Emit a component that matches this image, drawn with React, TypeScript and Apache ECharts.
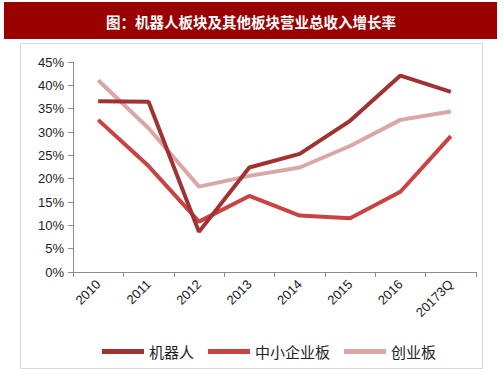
import React, { useEffect, useRef } from "react";
import * as echarts from "echarts";

const categories = ["2010", "2011", "2012", "2013", "2014", "2015", "2016", "20173Q"];
const robot = [36.6, 36.5, 8.6, 22.4, 25.3, 32.4, 42.1, 38.6];
const sme = [32.6, 22.7, 10.8, 16.3, 12.1, 11.5, 17.2, 29.1];
const chinext = [41.1, 30.8, 18.3, 20.6, 22.4, 27.0, 32.6, 34.4];
const seriesNames = ["机器人", "中小企业板", "创业板"];
const colors = ["#a13232", "#c94343", "#dba6a6"];
const titleText = "图：机器人板块及其他板块营业总收入增长率";

export default function App() {
  const ref = useRef<HTMLDivElement>(null);
  useEffect(() => {
    if (!ref.current) return;
    const chart = echarts.init(ref.current, null, { renderer: "svg" });
    const font = "'Liberation Sans', 'Noto Sans CJK SC', sans-serif";
    const mk = (name: string, data: number[], color: string, z: number) => ({
      name,
      type: "line",
      data,
      z,
      symbol: "none",
      lineStyle: { color, width: 4 },
      itemStyle: { color },
    });
    chart.setOption({
      animation: false,
      backgroundColor: "#ffffff",
      graphic: [
        { type: "rect", shape: { x: 4, y: 2, width: 493, height: 37 }, style: { fill: "#990000" }, z: 0 },
        {
          type: "text",
          x: 251,
          y: 21,
          style: {
            text: titleText,
            fill: "#ffffff",
            font: "bold 14.5px 'Noto Sans CJK SC', sans-serif",
            align: "center",
            verticalAlign: "middle",
          },
        },
        {
          type: "rect",
          shape: { x: 20.5, y: 43.5, width: 462, height: 325 },
          style: { fill: "none", stroke: "#d9d9d9", lineWidth: 1 },
          z: 0,
        },
      ],
      grid: { left: 73, right: 27, top: 62, bottom: 106, containLabel: false },
      xAxis: {
        type: "category",
        data: categories,
        boundaryGap: true,
        axisLine: { lineStyle: { color: "#8c8c8c", width: 1 } },
        axisTick: { show: true, length: 5, lineStyle: { color: "#8c8c8c" } },
        axisLabel: { rotate: 45, color: "#222", fontSize: 13, fontFamily: font, margin: 10 },
      },
      yAxis: {
        type: "value",
        min: 0,
        max: 45,
        interval: 5,
        axisLine: { show: true, lineStyle: { color: "#8c8c8c", width: 1 } },
        axisTick: { show: true, length: 5, lineStyle: { color: "#8c8c8c" } },
        splitLine: { show: false },
        axisLabel: { formatter: "{value}%", color: "#222", fontSize: 13, fontFamily: font, margin: 9 },
      },
      legend: {
        bottom: 14,
        left: 97,
        itemWidth: 42,
        itemHeight: 5,
        itemGap: 14,
        icon: "rect",
        textStyle: { fontSize: 15, color: "#222", fontFamily: "'Noto Sans CJK SC', sans-serif" },
        data: seriesNames,
      },
      series: [
        mk(seriesNames[2], chinext, colors[2], 2),
        mk(seriesNames[1], sme, colors[1], 3),
        mk(seriesNames[0], robot, colors[0], 4),
      ],
    });
    return () => chart.dispose();
  }, []);
  return <div ref={ref} style={{ position: "fixed", left: 0, top: 0, width: 503, height: 378 }} />;
}
